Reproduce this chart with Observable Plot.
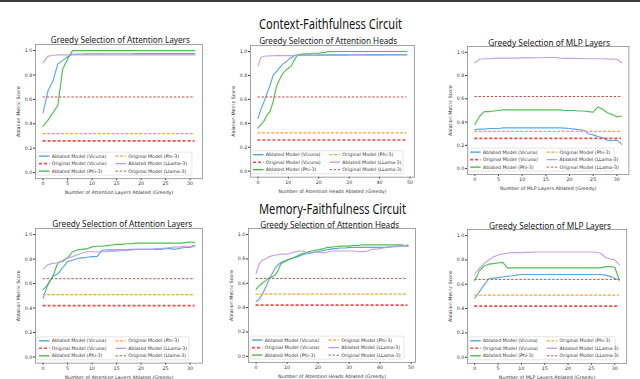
<!DOCTYPE html>
<html><head><meta charset="utf-8">
<script src="https://cdn.jsdelivr.net/npm/d3@7"></script>
<script src="https://cdn.jsdelivr.net/npm/@observablehq/plot@0.6"></script>
<style>
html,body{margin:0;padding:0;background:#fff;}
#root{position:relative;width:640px;height:379px;overflow:hidden;background:#fff;}
#topbar{position:absolute;left:0;top:0;width:640px;height:2px;background:#3c3c3c;}
</style></head><body><div id="root"><div id="topbar"></div></div>
<script>
// ---------- data ----------
const sectionTitles = ["Context-Faithfulness Circuit", "Memory-Faithfulness Circuit"];
const panelTitles = ["Greedy Selection of Attention Layers", "Greedy Selection of Attention Heads", "Greedy Selection of MLP Layers"];
const xLabels = ["Number of Attention Layers Ablated (Greedy)", "Number of Attention Heads Ablated (Greedy)", "Number of MLP Layers Ablated (Greedy)"];
const yLabel = "Ablation Metric Score";
const layerTicks = [0, 5, 10, 15, 20, 25, 30];
const headTicks = [0, 10, 20, 30, 40, 50];
const scoreTicks = [0, 0.2, 0.4, 0.6, 0.8, 1.0];
const legendLabels = ["Ablated Model (Vicuna)", "Original Model (Vicuna)", "Ablated Model (Phi-3)", "Original Model (Phi-3)", "Ablated Model (LLama-3)", "Original Model (LLama-3)"];
const legendLabelsAlt = ["Ablated Model (Vicuna)", "Original Model (Vicuna)", "Ablated Model (Phi-3)", "Original Model (Phi-3)", "Ablated Model (LLama-3)", "Original Model (Llama-3)"];

// original (un-ablated) model scores: [Vicuna, Phi-3, Llama-3]
const ctxOriginal = [0.26, 0.32, 0.62];
const memOriginal = [0.42, 0.51, 0.64];

// Context - attention layers
const ctxLayersVicuna = [0.49,0.67,0.75,0.89,0.92,0.95,0.97,0.972,0.972,0.973,0.973,0.973,0.973,0.974,0.974,0.974,0.974,0.974,0.974,0.975,0.975,0.975,0.975,0.975,0.975,0.975,0.975,0.975,0.975,0.975,0.975,0.975];
const ctxLayersPhi = [0.38,0.43,0.49,0.55,0.85,0.93,1.0,1.0,1.0,1.0,1.0,1.0,1.0,1.0,1.0,1.0,1.0,1.0,1.0,1.0,1.0,1.0,1.0,1.0,1.0,1.0,1.0,1.0,1.0,1.0,1.0,1.0];
const ctxLayersLlama = [0.90,0.955,0.96,0.965,0.965,0.965,0.965,0.965,0.965,0.965,0.965,0.965,0.965,0.965,0.965,0.965,0.965,0.965,0.965,0.965,0.965,0.965,0.965,0.965,0.965,0.965,0.965,0.965,0.965,0.965,0.965,0.965];

// Context - attention heads
const ctxHeadsVicuna = [0.44,0.52,0.58,0.65,0.72,0.80,0.83,0.86,0.89,0.91,0.93,0.95,0.965,0.97,0.97,0.97,0.97,0.97,0.97,0.97,0.972,0.972,0.972,0.972,0.972,0.972,0.972,0.972,0.972,0.973,0.973,0.973,0.973,0.973,0.973,0.973,0.974,0.974,0.974,0.974,0.974,0.974,0.975,0.975,0.975,0.975,0.975,0.975,0.975,0.975];
const ctxHeadsPhi = [0.36,0.39,0.42,0.47,0.50,0.58,0.70,0.76,0.81,0.84,0.86,0.88,0.93,0.97,0.975,0.98,0.98,0.98,0.985,0.985,0.985,0.99,0.99,1.0,1.0,1.0,1.0,1.0,1.0,1.0,1.0,1.0,1.0,1.0,1.0,1.0,1.0,1.0,1.0,1.0,1.0,1.0,1.0,1.0,1.0,1.0,1.0,1.0,1.0,1.0];
const ctxHeadsLlama = [0.88,0.95,0.96,0.962,0.963,0.964,0.965,0.965,0.965,0.966,0.966,0.966,0.967,0.967,0.967,0.967,0.968,0.968,0.968,0.968,0.968,0.968,0.968,0.968,0.968,0.968,0.968,0.968,0.968,0.968,0.969,0.969,0.969,0.969,0.969,0.969,0.969,0.969,0.969,0.969,0.97,0.97,0.97,0.97,0.97,0.97,0.97,0.97,0.97,0.97];

// Context - MLP layers
const ctxMlpVicuna = [0.335,0.34,0.34,0.345,0.345,0.345,0.35,0.35,0.35,0.35,0.35,0.35,0.35,0.35,0.35,0.35,0.35,0.35,0.35,0.348,0.345,0.34,0.335,0.33,0.30,0.29,0.275,0.265,0.245,0.24,0.245,0.21];
const ctxMlpPhi = [0.38,0.45,0.49,0.49,0.495,0.50,0.505,0.505,0.505,0.505,0.505,0.505,0.505,0.505,0.505,0.505,0.505,0.505,0.505,0.50,0.50,0.50,0.495,0.495,0.49,0.485,0.53,0.51,0.48,0.465,0.445,0.45];
const ctxMlpLlama = [0.91,0.94,0.945,0.945,0.948,0.95,0.95,0.95,0.95,0.95,0.952,0.952,0.952,0.953,0.953,0.955,0.955,0.955,0.95,0.948,0.948,0.948,0.947,0.947,0.945,0.945,0.945,0.945,0.943,0.942,0.94,0.91];

// Memory - attention layers
const memLayersVicuna = [0.48,0.60,0.66,0.68,0.73,0.78,0.79,0.805,0.81,0.815,0.82,0.82,0.87,0.875,0.875,0.875,0.875,0.875,0.88,0.88,0.88,0.88,0.88,0.88,0.88,0.885,0.885,0.88,0.89,0.895,0.895,0.91];
const memLayersPhi = [0.55,0.59,0.66,0.77,0.78,0.81,0.86,0.875,0.88,0.885,0.90,0.905,0.905,0.91,0.915,0.92,0.92,0.925,0.925,0.93,0.93,0.93,0.93,0.93,0.93,0.93,0.93,0.93,0.93,0.935,0.94,0.935];
const memLayersLlama = [0.72,0.755,0.765,0.77,0.79,0.81,0.82,0.835,0.85,0.86,0.86,0.86,0.86,0.86,0.865,0.865,0.87,0.87,0.875,0.88,0.88,0.88,0.88,0.885,0.885,0.89,0.895,0.90,0.90,0.905,0.905,0.91];

// Memory - attention heads
const memHeadsVicuna = [0.45,0.47,0.51,0.56,0.62,0.67,0.72,0.75,0.77,0.78,0.79,0.80,0.81,0.815,0.825,0.835,0.84,0.845,0.85,0.855,0.86,0.865,0.87,0.875,0.88,0.885,0.885,0.89,0.89,0.89,0.895,0.895,0.895,0.895,0.895,0.895,0.895,0.895,0.895,0.895,0.895,0.895,0.895,0.90,0.90,0.90,0.905,0.905,0.905,0.905];
const memHeadsPhi = [0.55,0.58,0.60,0.62,0.64,0.65,0.665,0.70,0.76,0.775,0.79,0.80,0.81,0.82,0.835,0.845,0.85,0.86,0.865,0.87,0.875,0.88,0.885,0.895,0.895,0.90,0.90,0.905,0.905,0.905,0.905,0.91,0.91,0.91,0.915,0.915,0.915,0.915,0.915,0.915,0.915,0.915,0.915,0.915,0.915,0.915,0.915,0.915,0.91,0.91];
const memHeadsLlama = [0.68,0.76,0.79,0.80,0.815,0.825,0.83,0.835,0.84,0.84,0.84,0.845,0.855,0.86,0.865,0.865,0.855,0.855,0.855,0.855,0.855,0.855,0.85,0.855,0.865,0.865,0.865,0.865,0.865,0.865,0.865,0.865,0.865,0.86,0.86,0.86,0.865,0.875,0.88,0.88,0.885,0.89,0.895,0.895,0.90,0.905,0.905,0.91,0.91,0.915];

// Memory - MLP layers
const memMlpVicuna = [0.485,0.54,0.595,0.645,0.65,0.655,0.66,0.665,0.67,0.675,0.68,0.68,0.68,0.68,0.68,0.68,0.68,0.68,0.68,0.68,0.68,0.68,0.68,0.68,0.68,0.68,0.68,0.68,0.675,0.665,0.65,0.635];
const memMlpPhi = [0.63,0.71,0.75,0.765,0.77,0.775,0.78,0.735,0.735,0.735,0.735,0.735,0.735,0.735,0.735,0.735,0.735,0.735,0.735,0.735,0.735,0.735,0.735,0.735,0.735,0.735,0.735,0.735,0.745,0.745,0.74,0.635];
const memMlpLlama = [0.685,0.73,0.77,0.80,0.825,0.84,0.85,0.855,0.86,0.86,0.86,0.862,0.862,0.865,0.865,0.865,0.865,0.865,0.865,0.865,0.865,0.865,0.865,0.865,0.865,0.865,0.863,0.855,0.82,0.81,0.80,0.76];

// ---------- styles ----------
const colors = {vicuna:"#4a9fd9", phi:"#3db83d", llama:"#bf98e0", oVicuna:"#f64646", oPhi:"#ffa033", oLlama:"#b5594f"};
const dash = {oVicuna:{w:1.6, d:"3,2"}, oPhi:{w:1.3, d:"3,1.6"}, oLlama:{w:1.0, d:"2.5,1.6"}};
const layerDomain = [-1.55, 32.55];
const headDomain = [-2.45, 51.45];

const panels = [
  {title: panelTitles[0], xlabel: xLabels[0], ticks: layerTicks, T: 30, dom: layerDomain, v: ctxLayersVicuna, p: ctxLayersPhi, l: ctxLayersLlama, o: ctxOriginal, x0: 43, xT: 190, y0: 172, y1: 50, tx: 120.3, ty: 39, tw: 139, legW: 155, labels: legendLabelsAlt},
  {title: panelTitles[1], xlabel: xLabels[1], ticks: headTicks, T: 50, dom: headDomain, v: ctxHeadsVicuna, p: ctxHeadsPhi, l: ctxHeadsLlama, o: ctxOriginal, x0: 257, xT: 409, y0: 170.7, y1: 51, tx: 328.2, ty: 40.7, tw: 138, legW: 152, labels: legendLabels},
  {title: panelTitles[2], xlabel: xLabels[2], ticks: layerTicks, T: 30, dom: layerDomain, v: ctxMlpVicuna, p: ctxMlpPhi, l: ctxMlpLlama, o: ctxOriginal, x0: 474, xT: 616, y0: 168.3, y1: 52, tx: 549.2, ty: 42.3, tw: 122, legW: 146, labels: legendLabels},
  {title: panelTitles[0], xlabel: xLabels[0], ticks: layerTicks, T: 30, dom: layerDomain, v: memLayersVicuna, p: memLayersPhi, l: memLayersLlama, o: memOriginal, x0: 43, xT: 190, y0: 356.7, y1: 234.3, tx: 122.3, ty: 223.3, tw: 140, legW: 152, labels: legendLabelsAlt},
  {title: panelTitles[1], xlabel: xLabels[1], ticks: headTicks, T: 50, dom: headDomain, v: memHeadsVicuna, p: memHeadsPhi, l: memHeadsLlama, o: memOriginal, x0: 256, xT: 411, y0: 356, y1: 234.3, tx: 329.7, ty: 224.3, tw: 139, legW: 154, labels: legendLabels},
  {title: panelTitles[2], xlabel: xLabels[2], ticks: layerTicks, T: 30, dom: layerDomain, v: memMlpVicuna, p: memMlpPhi, l: memMlpLlama, o: memOriginal, x0: 474, xT: 614, y0: 356.7, y1: 235, tx: 550, ty: 225.7, tw: 122, legW: 147, labels: legendLabels}
];

const root = document.getElementById("root");
const overlay = d3.create("svg").attr("width", 640).attr("height", 379)
  .style("position", "absolute").style("left", "0px").style("top", "0px").style("pointer-events", "none");

const mL = 30, mR = 1, mT = 1, mB = 20;

panels.forEach(c => {
  const kx = (c.xT - c.x0) / c.T;
  const fl = c.x0 + c.dom[0] * kx, fr = c.x0 + c.dom[1] * kx;
  const ky = c.y0 - c.y1;
  const ft = c.y1 - 0.05 * ky, fb = c.y0 + 0.05 * ky;
  const W = fr - fl + mL + mR, H = fb - ft + mT + mB;
  const line = (arr, col) => Plot.line(arr, {x: (d, i) => i, y: d => d, stroke: col, strokeWidth: 1.15, strokeOpacity: 0.9});
  const orig = (val, n, col, st) => Plot.ruleY([val], {x1: () => 0, x2: () => n - 1, stroke: col, strokeWidth: st.w, strokeDasharray: st.d});
  const chart = Plot.plot({
    width: W, height: H,
    marginLeft: mL, marginRight: mR, marginTop: mT, marginBottom: mB,
    style: {fontSize: "4.8px", fontFamily: "DejaVu Sans", color: "#333", background: "transparent", overflow: "visible"},
    x: {domain: c.dom, ticks: c.ticks, tickSize: 2, tickPadding: 1.2, tickFormat: d3.format("d"), label: c.xlabel, labelArrow: "none", labelAnchor: "center", labelOffset: 15.5},
    y: {domain: [-0.05, 1.05], ticks: scoreTicks, tickSize: 2, tickPadding: 1.2, tickFormat: d3.format(".1f"), label: yLabel, labelArrow: "none", labelAnchor: "center", labelOffset: 19},
    marks: [
      line(c.v, colors.vicuna),
      orig(c.o[0], c.v.length, colors.oVicuna, dash.oVicuna),
      line(c.p, colors.phi),
      orig(c.o[1], c.v.length, colors.oPhi, dash.oPhi),
      line(c.l, colors.llama),
      orig(c.o[2], c.v.length, colors.oLlama, dash.oLlama),
      Plot.frame({stroke: "#8c8c8c", strokeWidth: 0.8})
    ]
  });
  chart.style.position = "absolute";
  chart.style.left = (fl - mL) + "px";
  chart.style.top = (ft - mT) + "px";
  root.appendChild(chart);

  // subplot title
  overlay.append("text").attr("x", c.tx).attr("y", c.ty).attr("text-anchor", "middle").attr("dominant-baseline", "central")
    .attr("font-family", "Noto Sans").attr("font-size", 9.6).attr("fill", "#222")
    .attr("textLength", c.tw).attr("lengthAdjust", "spacingAndGlyphs").text(c.title);

  // legend
  const bx = fl + 1.5, bh = 23, by = fb - 3 - bh;
  const g = overlay.append("g");
  g.append("rect").attr("x", bx).attr("y", by).attr("width", c.legW).attr("height", bh).attr("rx", 1.5)
    .attr("fill", "#fff").attr("fill-opacity", 0.85).attr("stroke", "#d4d4d4").attr("stroke-width", 0.6);
  const entries = [
    {label: c.labels[0], col: colors.vicuna, w: 1.3, d: null},
    {label: c.labels[1], col: colors.oVicuna, w: dash.oVicuna.w, d: dash.oVicuna.d},
    {label: c.labels[2], col: colors.phi, w: 1.3, d: null},
    {label: c.labels[3], col: colors.oPhi, w: dash.oPhi.w, d: dash.oPhi.d},
    {label: c.labels[4], col: colors.llama, w: 1.3, d: null},
    {label: c.labels[5], col: colors.oLlama, w: dash.oLlama.w, d: dash.oLlama.d}
  ];
  const rowsY = [4, 11.5, 19];
  entries.forEach((e, i) => {
    const col = i < 3 ? 0 : 1, row = i % 3;
    const sx = bx + (col ? 78.5 : 2), yy = by + rowsY[row];
    g.append("line").attr("x1", sx).attr("x2", sx + 10.5).attr("y1", yy).attr("y2", yy)
      .attr("stroke", e.col).attr("stroke-width", e.w).attr("stroke-dasharray", e.d);
    g.append("text").attr("x", sx + 12.8).attr("y", yy).attr("dominant-baseline", "central")
      .attr("font-family", "DejaVu Sans").attr("font-size", 4.7).attr("fill", "#333").text(e.label);
  });
});

// section titles
overlay.append("text").attr("x", 330.5).attr("y", 24.3).attr("text-anchor", "middle").attr("dominant-baseline", "central")
  .attr("font-family", "Noto Sans").attr("font-size", 13.5).attr("fill", "#111")
  .attr("textLength", 143).attr("lengthAdjust", "spacingAndGlyphs").text(sectionTitles[0]);
overlay.append("text").attr("x", 332.5).attr("y", 209).attr("text-anchor", "middle").attr("dominant-baseline", "central")
  .attr("font-family", "Noto Sans").attr("font-size", 13.5).attr("fill", "#111")
  .attr("textLength", 147).attr("lengthAdjust", "spacingAndGlyphs").text(sectionTitles[1]);

root.appendChild(overlay.node());
</script>
</body></html>
